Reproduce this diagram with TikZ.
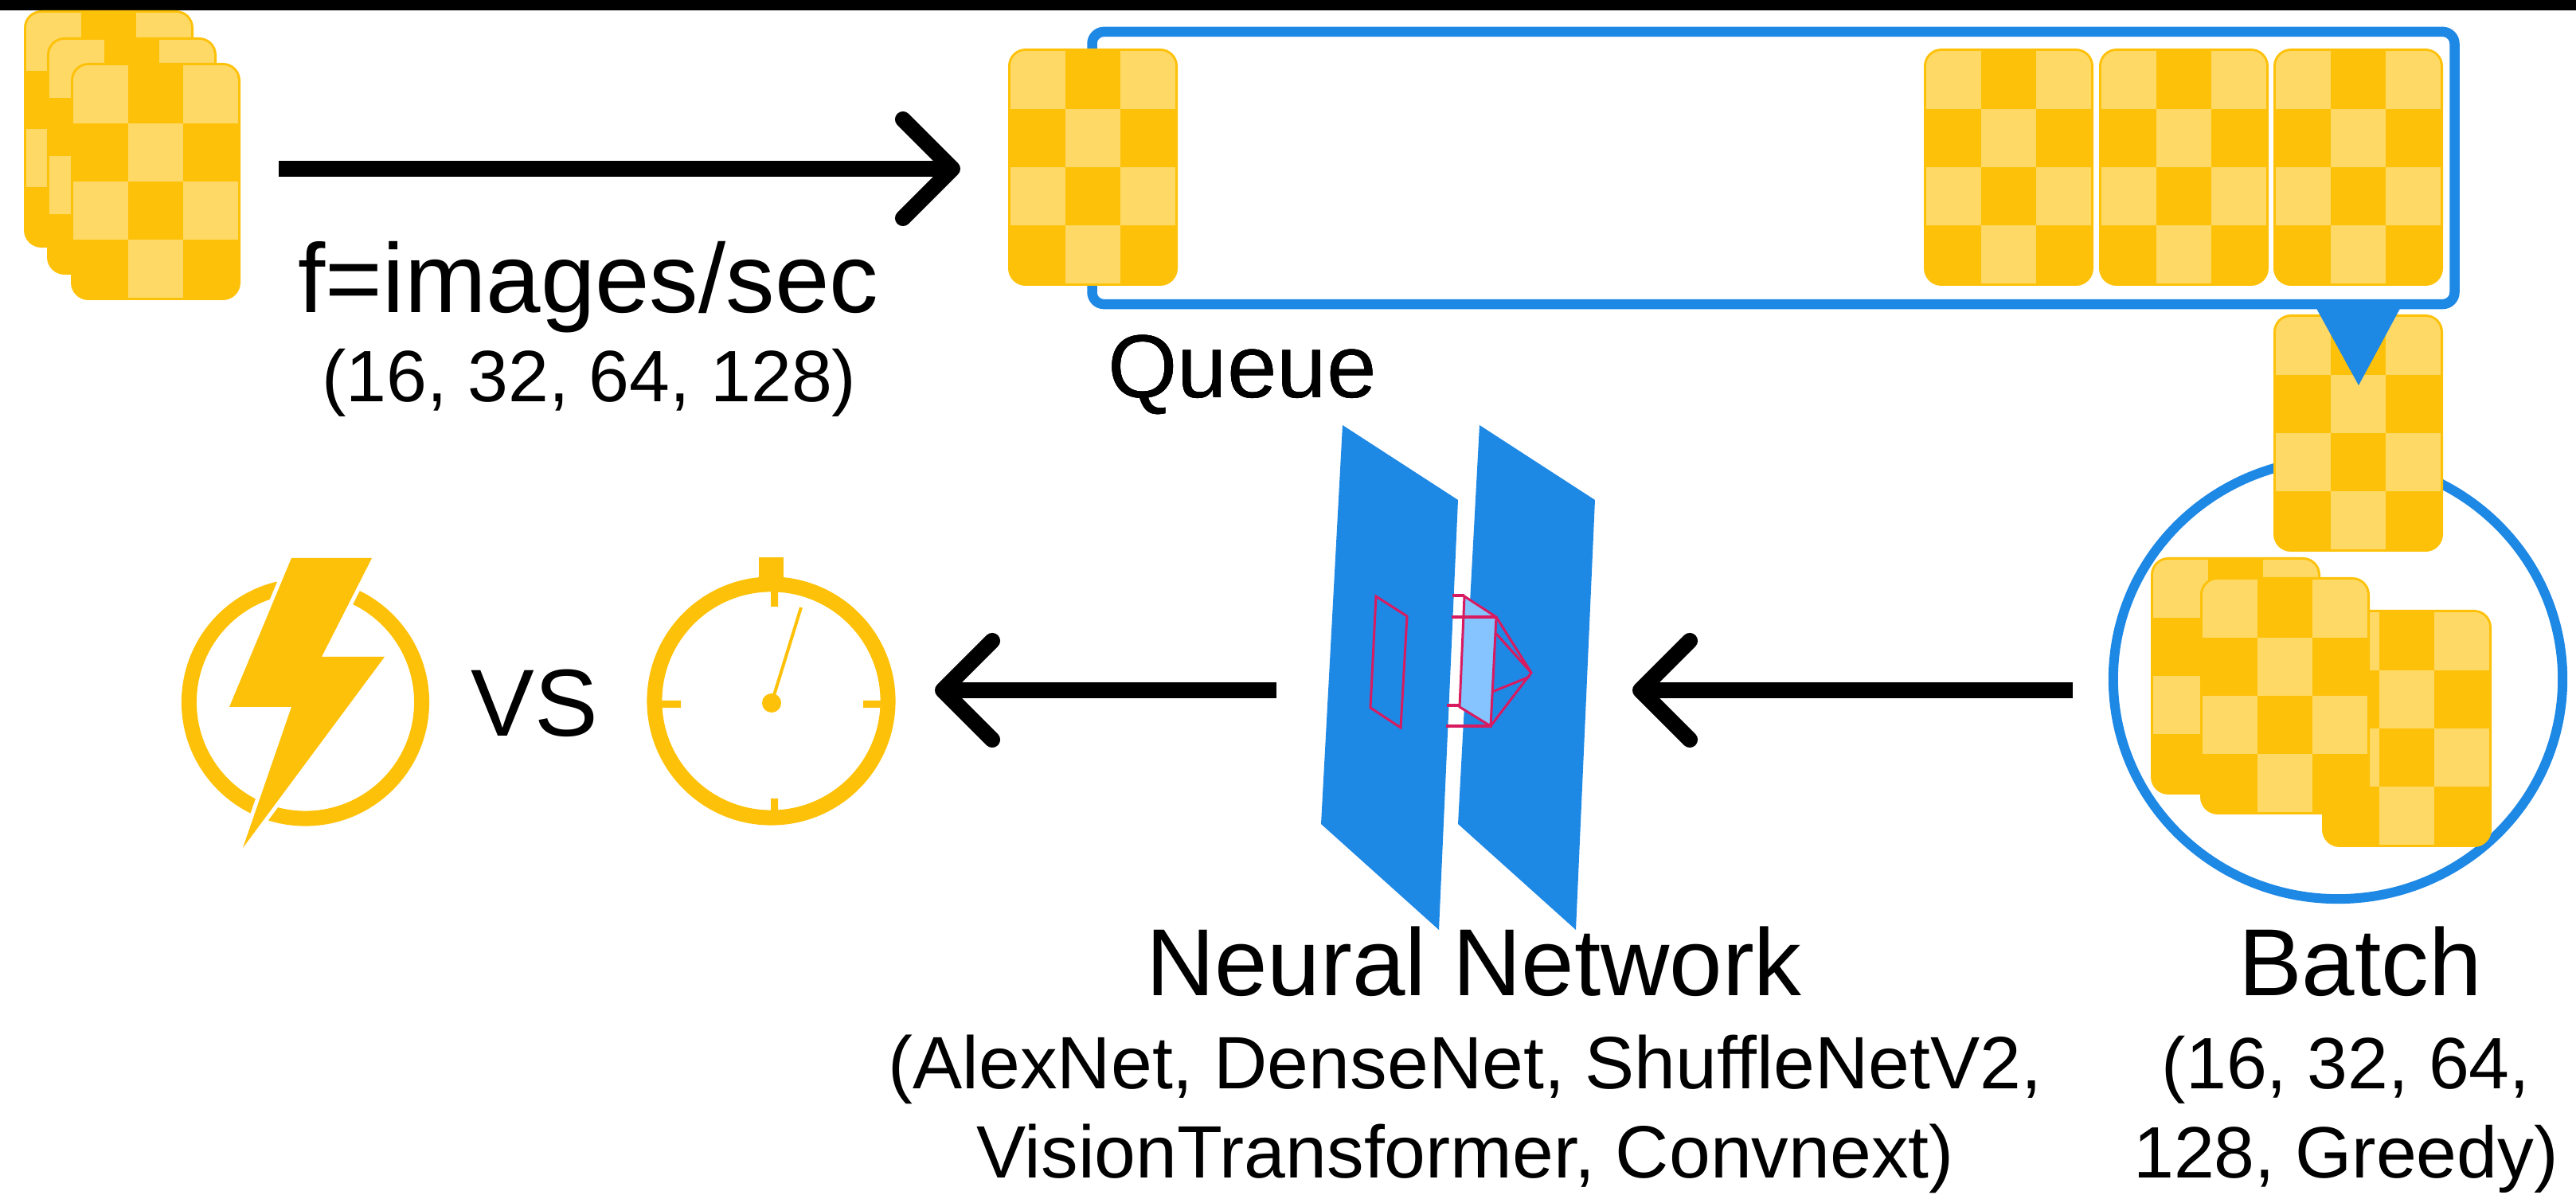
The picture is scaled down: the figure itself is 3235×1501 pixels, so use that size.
\documentclass[tikz,border=0pt]{standalone}
\usepackage{fontspec}
\setmainfont{Liberation Sans}
\usetikzlibrary{arrows.meta,shapes.geometric}

\definecolor{amber}{RGB}{254,193,9}
\definecolor{amberlight}{RGB}{255,217,102}
\definecolor{netblue}{RGB}{30,136,229}
\definecolor{skyblue}{RGB}{133,196,255}
\definecolor{crimson}{RGB}{216,27,96}

% one input image: rounded 3x4 checker tile, top-left corner at (#1,#2)
\newcommand{\imgtile}[2]{%
  \begin{scope}[shift={(#1,#2)}]
    \fill[amber, rounded corners=0.22cm] (0,0) rectangle (213,298);
    \begin{scope}
      \clip[rounded corners=0.19cm] (3,3) rectangle (210,295);
      \foreach \c/\r in {0/0,2/0,1/1,0/2,2/2,1/3}
        \fill[amberlight] (3+69*\c,3+73*\r) rectangle ++(69,73);
    \end{scope}
  \end{scope}
}

\tikzset{
  flow/.style={draw=black, line width=0.2cm,
    -{Straight Barb[length=0.62cm, width=1.24cm, round]}},
  lbl/.style={anchor=base, inner sep=0pt, font=\fontsize{34}{40}\selectfont},
  sublbl/.style={anchor=base, inner sep=0pt, align=center,
    font=\fontsize{26}{32}\selectfont},
  queuebox/.style={draw=netblue, line width=0.125cm, rounded corners=0.15cm,
    minimum width=17.10cm, minimum height=3.42cm},
  batchring/.style={ellipse, draw=netblue, line width=0.12cm,
    minimum width=5.64cm, minimum height=5.52cm}
}

\begin{document}
\begin{tikzpicture}[x=0.01cm, y=-0.01cm]
\useasboundingbox (0,0) rectangle (3235,1501);
\fill[black] (0,0) rectangle (3235,13);

% incoming images
\imgtile{30}{13}
\imgtile{59}{47}
\imgtile{89}{79}
\coordinate (feed) at (350,212);
\coordinate (enqueue) at (1206,212);
\draw[flow] (feed) -- (enqueue);
\node[lbl, font=\fontsize{35}{40}\selectfont] (rate) at (739,393) {f=images/sec};
\node[sublbl] (ratevals) at (740,505) {(16, 32, 64, 128)};

% queue
\node[queuebox] (queue) at (2227,211) {};
\imgtile{1266}{61}
\foreach \x in {2416,2636,2855}
  \imgtile{\x}{61}
\node[lbl, font=\fontsize{32}{40}\selectfont] (qlabel) at (1560,500) {Queue};

% batch
\node[batchring] (batch) at (2936,853) {};
\imgtile{2855}{395}
\fill[netblue] (2906,382) -- (3017,382) -- (2962,484) -- cycle;
\imgtile{2701}{700}
\imgtile{2916}{766}
\imgtile{2763}{725}
\node[lbl] (batchlabel) at (2964,1251) {Batch};
% base anchor sits on the last line
\node[sublbl] (batchlist) at (2946,1480) {(16, 32, 64,\\128, Greedy)};

% neural network layers
\fill[netblue] (1686,534) -- (1831,628) -- (1807,1168) -- (1659,1035) -- cycle;
\fill[netblue] (1858,534) -- (2003,628) -- (1979,1168) -- (1831,1035) -- cycle;
\draw[crimson, line width=0.03cm] (1728,749) -- (1767,774) -- (1759,914) -- (1721,889) -- cycle;
\fill[skyblue] (1839,749) -- (1879,775) -- (1872,912) -- (1833,888) -- cycle;
\draw[crimson, line width=0.03cm] (1839,749) -- (1879,775) -- (1872,912) -- (1833,888) -- cycle;
\draw[crimson, line width=0.045cm] (1824,748) -- (1839,748) (1823,775) -- (1879,775)
  (1817,886) -- (1833,886) (1816,912) -- (1872,912);
\draw[crimson, line width=0.03cm] (1879,775) -- (1923,845) -- (1872,912)
  (1879,796) -- (1923,845) (1874,869) -- (1921,850);
\node[lbl] (netlabel) at (1851,1251) {Neural Network};
\node[sublbl, font=\fontsize{26.5}{32}\selectfont] (netlist) at (1840,1480)
  {(AlexNet, DenseNet, ShuffleNetV2,\\VisionTransformer, Convnext)};

\coordinate (batchout) at (2603,867);
\coordinate (netin) at (2050,867);
\coordinate (netout) at (1603,867);
\coordinate (meter) at (1174,867);
\draw[flow] (batchout) -- (netin);
\draw[flow] (netout) -- (meter);

% stopwatch
\draw[amber, line width=0.19cm] (968.5,880.5) circle[radius=1.465cm];
\fill[amber] (953,700) rectangle (984,730);
\fill[amber] (968,735) rectangle (977,762) (968,1003) rectangle (977,1025)
  (825,880) rectangle (855,889) (1084,880) rectangle (1112,889);
\fill[amber] (969,883) circle[radius=0.12cm];
\draw[amber, line width=0.04cm] (969,883) -- (1006,763);

\node[lbl] (vs) at (671,925) {VS};

% energy
\draw[amber, line width=0.19cm] (383.5,882) circle[radius=1.46cm];
\filldraw[white, line width=0.1cm, line join=miter]
  (366,701) -- (467,701) -- (404,825) -- (483,825) -- (305,1065) -- (366,888) -- (288,888) -- cycle;
\fill[amber] (366,701) -- (467,701) -- (404,825) -- (483,825) -- (305,1065) -- (366,888) -- (288,888) -- cycle;
\end{tikzpicture}
\end{document}
